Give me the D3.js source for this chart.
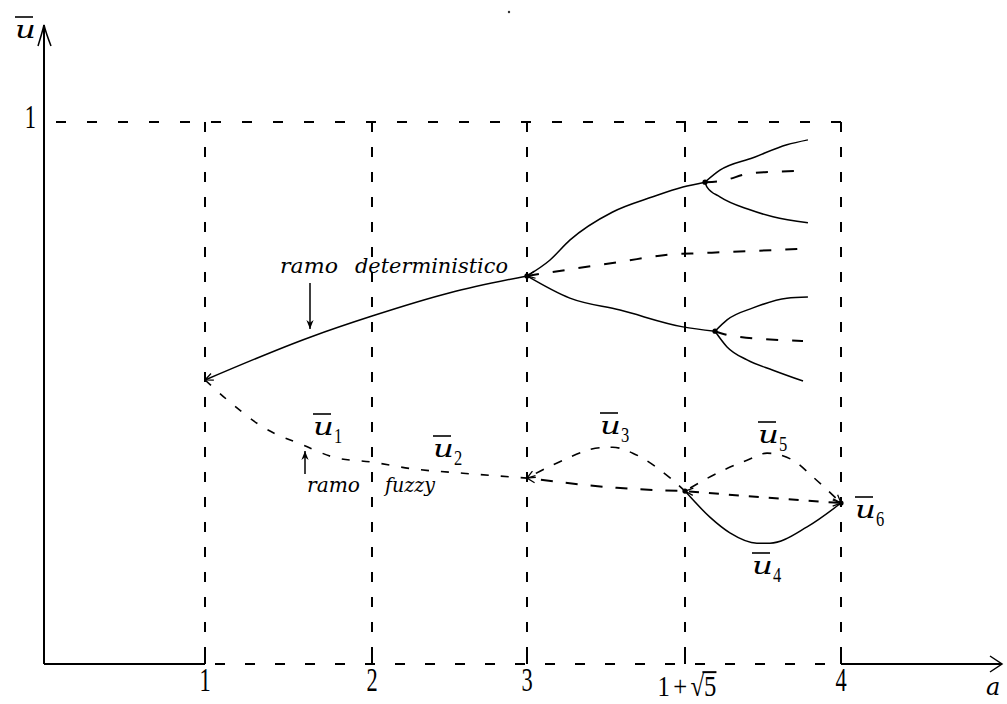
<!DOCTYPE html>
<html>
<head>
<meta charset="utf-8">
<script src="https://cdn.jsdelivr.net/npm/d3@7"></script>
<style>
  body { margin: 0; background: #fff; }
  svg { display: block; }
  text { fill: #000; font-family: "Liberation Serif", "DejaVu Serif", serif; }
  .it { font-family: "DejaVu Serif", "Liberation Serif", serif; font-style: italic; }
</style>
</head>
<body>
<svg id="chart" width="1007" height="704"></svg>
<script>
// ---- data (a, ū) -------------------------------------------------------
const SQ5 = 1 + Math.sqrt(5);
const xTicks = [1, 2, 3, SQ5, 4];
const xTickLabels = ["1", "2", "3", "1+√5", "4"];
const yTicks = [1];
const yTickLabels = ["1"];

// deterministic branch and its period-doubling bifurcations
const detTrunk  = [[1, 0.524], [1.629, 0.603], [2, 0.642], [2.503, 0.685], [3, 0.716]];
const detUpper  = [[3, 0.716], [3.034, 0.745], [3.064, 0.782], [3.128, 0.834], [3.188, 0.862], [3.233, 0.880], [3.334, 0.889]];
const detMid    = [[3, 0.716], [3.139, 0.742], [3.218, 0.756], [3.309, 0.758], [3.814, 0.766]];
const detLower  = [[3, 0.716], [3.064, 0.675], [3.139, 0.653], [3.233, 0.622], [3.383, 0.614]];
const upHigh    = [[3.334, 0.889], [3.407, 0.911], [3.569, 0.934], [3.735, 0.958], [3.838, 0.967]];
const upMid     = [[3.334, 0.889], [3.407, 0.891], [3.569, 0.906], [3.833, 0.910]];
const upLow     = [[3.334, 0.889], [3.344, 0.880], [3.407, 0.862], [3.554, 0.838], [3.667, 0.825], [3.838, 0.814]];
const lowHigh   = [[3.383, 0.614], [3.442, 0.635], [3.569, 0.657], [3.735, 0.675], [3.838, 0.677]];
const lowMid    = [[3.383, 0.614], [3.471, 0.605], [3.814, 0.596]];
const lowLow    = [[3.383, 0.614], [3.442, 0.585], [3.540, 0.561], [3.667, 0.542], [3.814, 0.522]];

// fuzzy branch ū1 … ū6
const fuzzyA    = [[1, 0.524], [1.150, 0.483], [1.347, 0.437], [1.587, 0.404], [1.790, 0.380], [1.988, 0.373], [2.265, 0.360], [2.587, 0.352], [3, 0.343]];
const fuzzyB    = [[3, 0.343], [3.134, 0.325], [SQ5, 0.319]];
const fuzzyC    = [[SQ5, 0.319], [3.603, 0.308], [4, 0.297]];
const humpU3    = [[3, 0.343], [3.045, 0.371], [3.109, 0.399], [3.128, 0.400], [3.158, 0.389], [3.203, 0.354], [SQ5, 0.319]];
const humpU5    = [[SQ5, 0.319], [3.393, 0.352], [3.540, 0.376], [3.638, 0.389], [3.765, 0.376], [3.863, 0.345], [4, 0.297]];
const troughU4  = [[SQ5, 0.319], [3.358, 0.271], [3.456, 0.242], [3.588, 0.223], [3.652, 0.223], [3.834, 0.253], [4, 0.297]];
const nodes     = [[3, 0.716], [3.334, 0.889], [3.383, 0.614], [SQ5, 0.319], [4, 0.297]];

// ---- scales -------------------------------------------------------------
const svg = d3.select("#chart");
const x = d3.scaleLinear().domain([0, 1, 2, 3, SQ5, 4]).range([44, 205, 372, 527, 685, 841]);
const y = d3.scaleLinear().domain([0, 1]).range([664, 122]);
const xEnd = 1002, yTop = 25;

// ---- markers ------------------------------------------------------------
const defs = svg.append("defs");
defs.append("marker")
  .attr("id", "vhead").attr("viewBox", "0 0 10 10")
  .attr("refX", 10).attr("refY", 5)
  .attr("markerUnits", "userSpaceOnUse")
  .attr("markerWidth", 9).attr("markerHeight", 9)
  .attr("orient", "auto-start-reverse")
  .append("path").attr("d", "M1,1 L10,5 L1,9")
  .attr("fill", "none").attr("stroke", "#000").attr("stroke-width", 1.4);
defs.append("marker")
  .attr("id", "solidhead").attr("viewBox", "0 0 10 10")
  .attr("refX", 10).attr("refY", 5)
  .attr("markerUnits", "userSpaceOnUse")
  .attr("markerWidth", 9).attr("markerHeight", 11)
  .attr("orient", "auto")
  .append("path").attr("d", "M0,1 L10,5 L0,9 L3,5 z").attr("fill", "#000");

// ---- grid ---------------------------------------------------------------
const grid = svg.append("g").attr("stroke", "#000").attr("stroke-width", 2);
grid.selectAll("line.v").data(xTicks).join("line")
  .attr("x1", d => x(d)).attr("x2", d => x(d))
  .attr("y1", y(1)).attr("y2", y(0))
  .attr("stroke-dasharray", "10,15");
grid.selectAll("line.h").data(yTicks).join("line")
  .attr("x1", x(0)).attr("x2", x(4))
  .attr("y1", d => y(d)).attr("y2", d => y(d))
  .attr("stroke-dasharray", "10,21").attr("stroke-dashoffset", -12);

// ---- axes ---------------------------------------------------------------
const axes = svg.append("g").attr("stroke", "#000").attr("fill", "none");
axes.append("line").attr("x1", x(0)).attr("x2", x(0)).attr("y1", y(0)).attr("y2", yTop).attr("stroke-width", 2);
axes.append("path").attr("d", `M${x(0) - 6},${yTop + 21} Q${x(0) - 2},${yTop + 8} ${x(0)},${yTop} Q${x(0) + 2},${yTop + 8} ${x(0) + 7},${yTop + 21}`).attr("stroke-width", 1.5);
axes.append("line").attr("x1", x(0)).attr("x2", x(1)).attr("y1", y(0)).attr("y2", y(0)).attr("stroke-width", 2);
axes.append("line").attr("x1", x(1)).attr("x2", x(4)).attr("y1", y(0)).attr("y2", y(0))
  .attr("stroke-width", 2).attr("stroke-dasharray", "10,20").attr("stroke-dashoffset", -10);
axes.append("line").attr("x1", x(4)).attr("x2", xEnd).attr("y1", y(0)).attr("y2", y(0)).attr("stroke-width", 2);
axes.append("path").attr("d", `M${xEnd - 12},${y(0) - 8} L${xEnd},${y(0)} L${xEnd - 12},${y(0) + 8}`).attr("stroke-width", 1.5);
axes.selectAll("line.tick").data(xTicks).join("line")
  .attr("x1", d => x(d)).attr("x2", d => x(d))
  .attr("y1", y(0)).attr("y2", y(0) - 8).attr("stroke-width", 2);

// tick labels (tall, narrow digits)
const tl = svg.append("g").attr("font-size", 33);
tl.selectAll("g.xl").data(xTicks).join("g")
  .attr("transform", (d, i) => xTickLabels[i].includes("√")
    ? `translate(${x(d) + 2},696) scale(0.85,1)`
    : `translate(${x(d)},691) scale(0.68,1)`)
  .each(function (d, i) {
    const g = d3.select(this);
    const lab = xTickLabels[i];
    const t = g.append("text").attr("text-anchor", "middle");
    if (lab.includes("√")) {
      // radical with a vinculum over the radicand
      const k = lab.indexOf("√");
      t.attr("font-size", 29);
      t.append("tspan").text(lab.slice(0, 1));
      t.append("tspan").attr("dx", 4).text(lab.slice(1, k));
      t.append("tspan").attr("dx", 4).text("√");
      t.append("tspan").attr("dx", 0).text(lab.slice(k + 1));
      const node = t.node();
      const r = node.getExtentOfChar(k);
      const last = node.getExtentOfChar(lab.length - 1);
      g.append("line")
        .attr("x1", r.x + r.width - 2).attr("x2", last.x + last.width)
        .attr("y1", r.y + 2).attr("y2", r.y + 2)
        .attr("stroke", "#000").attr("stroke-width", 2);
    } else {
      t.text(lab);
    }
  });
tl.selectAll("text.yl").data(yTicks).join("text")
  .attr("transform", d => `translate(36,${y(d) + 6}) scale(0.68,1)`)
  .attr("text-anchor", "end")
  .text((d, i) => yTickLabels[i]);

// ū glyph with overbar and optional index
function ubar(g, px, py, sub) {
  g.append("text").attr("transform", `translate(${px},${py}) scale(1.35,1)`)
    .attr("class", "it").attr("font-size", 24).text("u");
  g.append("line").attr("x1", px).attr("x2", px + 18).attr("y1", py - 21).attr("y2", py - 21)
    .attr("stroke", "#000").attr("stroke-width", 1.6);
  if (sub) {
    g.append("text").attr("transform", `translate(${px + 21},${py + 8}) scale(0.75,1)`)
      .attr("font-size", 22).text(sub);
  }
}
const labels = svg.append("g");
ubar(labels, 15, 38, null);
labels.append("text").attr("x", 986).attr("y", 695).attr("font-size", 24).attr("class", "it").text("a");

// ---- curves -------------------------------------------------------------
const line = d3.line().x(d => x(d[0])).y(d => y(d[1])).curve(d3.curveMonotoneX);
const curves = svg.append("g").attr("fill", "none").attr("stroke", "#000");
const solid = [detTrunk, detUpper, detLower, upHigh, upLow, lowHigh, lowLow, troughU4];
curves.selectAll("path.solid").data(solid).join("path")
  .attr("d", line).attr("stroke-width", 1.5)
  .attr("marker-start", d => d === detTrunk ? "url(#vhead)" : null);
const dashedDet = [detMid, upMid, lowMid];
curves.selectAll("path.dd").data(dashedDet).join("path")
  .attr("d", line).attr("stroke-width", 2).attr("stroke-dasharray", "12,14")
  .attr("marker-start", d => d === detMid ? "url(#vhead)" : null);
curves.append("path").datum(fuzzyA).attr("d", line)
  .attr("stroke-width", 1.6).attr("stroke-dasharray", "8,12");
curves.append("path").datum(fuzzyB).attr("d", line)
  .attr("stroke-width", 2).attr("stroke-dasharray", "12,13").attr("stroke-dashoffset", -14)
  .attr("marker-start", "url(#vhead)");
curves.append("path").datum(fuzzyC).attr("d", line)
  .attr("stroke-width", 2).attr("stroke-dasharray", "10,10").attr("stroke-dashoffset", -4)
  .attr("marker-start", "url(#vhead)").attr("marker-end", "url(#vhead)");
curves.append("path").datum(humpU3).attr("d", line)
  .attr("stroke-width", 1.6).attr("stroke-dasharray", "9,11").attr("stroke-dashoffset", -10)
  .attr("marker-start", "url(#vhead)");
curves.append("path").datum(humpU5).attr("d", line)
  .attr("stroke-width", 1.6).attr("stroke-dasharray", "9,11").attr("stroke-dashoffset", -6)
  .attr("marker-end", "url(#vhead)");

svg.append("g").selectAll("circle").data(nodes).join("circle")
  .attr("cx", d => x(d[0])).attr("cy", d => y(d[1])).attr("r", 2.6).attr("fill", "#000");

// ---- annotations --------------------------------------------------------
const phrase = (txt, px, py, len) => labels.append("text")
  .attr("x", px).attr("y", py).attr("font-size", 21).attr("class", "it")
  .attr("textLength", len).attr("lengthAdjust", "spacingAndGlyphs").text(txt);
phrase("ramo", 280, 273, 58);
phrase("deterministico", 355, 273, 153);
phrase("ramo", 307, 492, 53);
phrase("fuzzy", 385, 492, 50);

svg.append("line").attr("x1", 310).attr("x2", 310).attr("y1", 283).attr("y2", 329)
  .attr("stroke", "#000").attr("stroke-width", 1.5).attr("marker-end", "url(#solidhead)");
svg.append("line").attr("x1", 305).attr("x2", 305).attr("y1", 474).attr("y2", 451)
  .attr("stroke", "#000").attr("stroke-width", 1.5).attr("marker-end", "url(#solidhead)");

ubar(labels, 313, 435, "1");
ubar(labels, 433, 457, "2");
ubar(labels, 600, 434, "3");
ubar(labels, 758, 443, "5");
ubar(labels, 855, 518, "6");
ubar(labels, 752, 574, "4");

svg.append("circle").attr("cx", 509).attr("cy", 12).attr("r", 1.2).attr("fill", "#333");
</script>
</body>
</html>
